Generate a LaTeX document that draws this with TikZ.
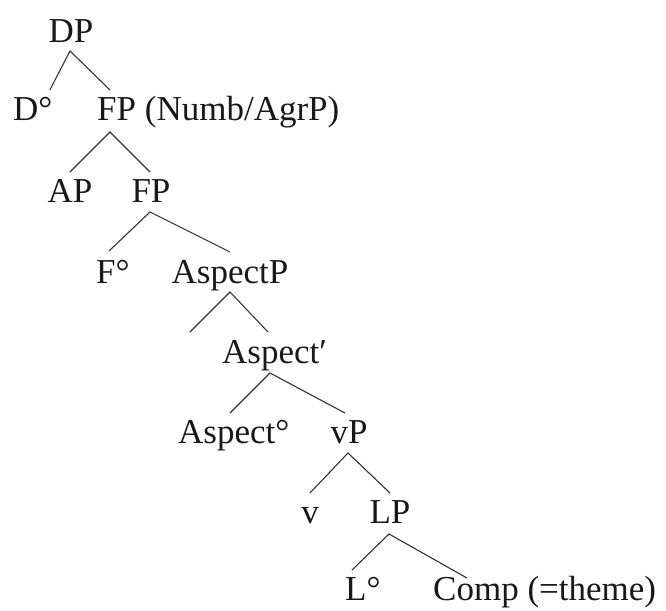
\documentclass[tikz,border=0pt]{standalone}
\usepackage{fontspec}
\setmainfont{Liberation Serif}
\usetikzlibrary{calc}
\begin{document}
\begin{tikzpicture}[x=1pt,y=-1pt,
  lab/.style={font=\fontsize{35}{41}\selectfont, inner sep=0pt, text=black!90},
  br/.style={draw=black!80, line width=1.1pt}]
\useasboundingbox (0,0) rectangle (666,610);
% nodes
\node[lab, anchor=base] (DP) at (71,43) {DP};
\node[lab, anchor=base west] (Do) at (13,120) {D°};
\node[lab, anchor=base west] (FPN) at (97,120) {FP (Numb/AgrP)};
\node[lab, anchor=base] (AP) at (70,202) {AP};
\node[lab, anchor=base] (FPb) at (151,202) {FP};
\node[lab, anchor=base west] (Fo) at (96,283) {F°};
\node[lab, anchor=base] (AspP) at (230,283) {AspectP};
\node[lab, anchor=base west] (Asp1) at (222,363) {Aspect′};
\node[lab, anchor=base west] (Aspo) at (178,443) {Aspect°};
\node[lab, anchor=base] (vP) at (349,443) {vP};
\node[lab, anchor=base] (v) at (310,523) {v};
\node[lab, anchor=base] (LP) at (390,523) {LP};
\node[lab, anchor=base west] (Lo) at (345,600) {L°};
\node[lab, anchor=base west] (Comp) at (433,600) {Comp (=theme)};
\coordinate (spec) at ($(AspP.base)+(-40,49)$);
% branches
\draw[br] ($(Do.base)+(17,-30)$) -- ($(DP.base)+(-1,8)$) -- ($(FPN.base west)+(13,-30)$);
\draw[br] ($(AP.base)+(0,-30)$) -- ($(FPN.base west)+(13,12)$) -- ($(FPb.base)+(-1,-30)$);
\draw[br] ($(Fo.base west)+(13,-32)$) -- ($(FPb.base)+(-1,10)$) -- ($(AspP.base)+(0,-31)$);
\draw[br] (spec) -- ($(AspP.base)+(0,9)$) -- ($(Asp1.base west)+(46,-31)$);
\draw[br] ($(Aspo.base west)+(52,-30)$) -- ($(Asp1.base west)+(48,10)$) -- ($(vP.base)+(-4,-30)$);
\draw[br] ($(v.base)+(0,-30)$) -- ($(vP.base)+(-1,10)$) -- ($(LP.base)+(0,-30)$);
\draw[br] ($(Lo.base west)+(7,-30)$) -- ($(LP.base)+(-1,11)$) -- ($(Comp.base west)+(34,-22)$);
\end{tikzpicture}
\end{document}
